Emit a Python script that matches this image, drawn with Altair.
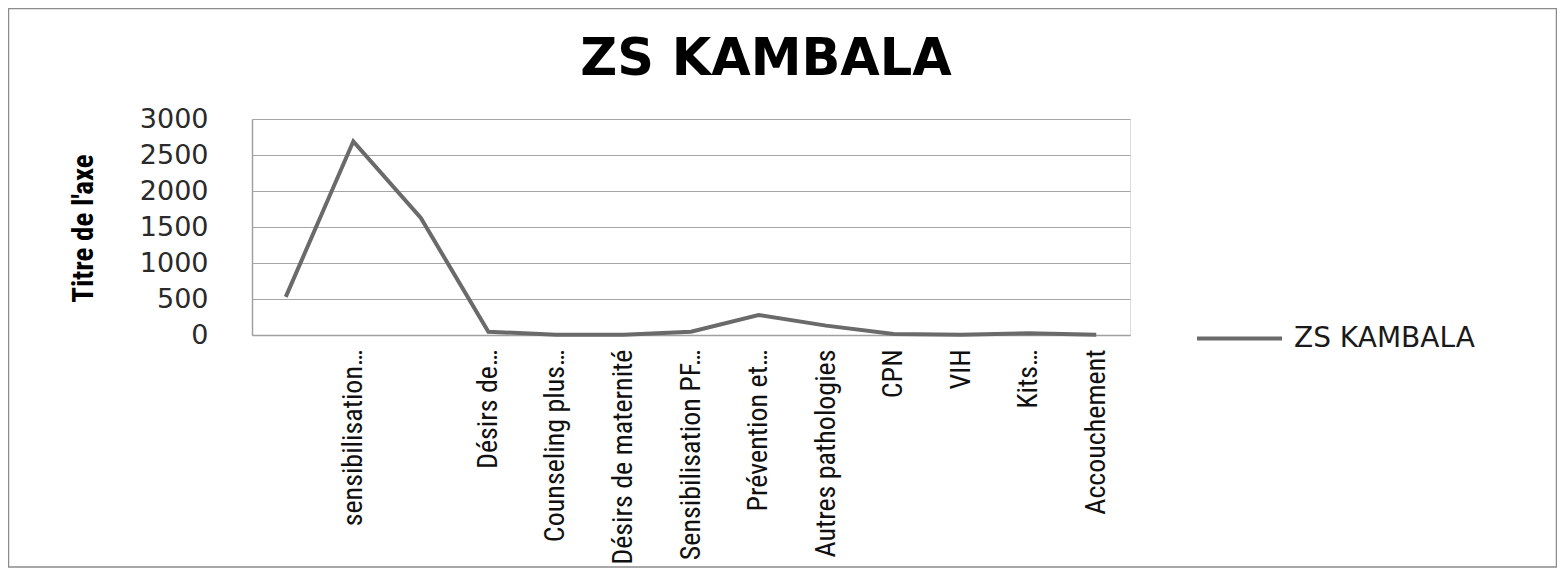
import json
import altair as alt
import pandas as pd

# ---- data ----
labels = ["", "sensibilisation…", "", "Désirs de…", "Counseling plus…",
          "Désirs de maternité", "Sensibilisation PF…", "Prévention et…",
          "Autres pathologies", "CPN", "VIH", "Kits…", "Accouchement"]
values = [530, 2690, 1625, 46, 3, 3, 46, 278, 130, 14, 3, 25, 3]
series_name = "ZS KAMBALA"
chart_title = "ZS KAMBALA"
y_ticks = [0, 500, 1000, 1500, 2000, 2500, 3000]

df = pd.DataFrame({
    "idx": list(range(len(labels))),
    "value": values,
    "series": [series_name] * len(labels),
})

label_expr = json.dumps(labels, ensure_ascii=False) + "[datum.value]"

PAD_L, PAD_T, PAD_R, PAD_B = 244, 111, 427, 233
W, H = 878, 216
NARROW = "Liberation Sans Narrow, Arial Narrow, Roboto Condensed, sans-serif"

line = alt.Chart(df).mark_line(strokeWidth=4).encode(
    x=alt.X("idx:O", scale=alt.Scale(type="point", padding=0.5),
            axis=alt.Axis(labelExpr=label_expr, labelAngle=270, title=None,
                          ticks=False, grid=False, domain=True,
                          domainColor="#a0a0a0", domainWidth=1.5,
                          labelFont=NARROW, labelFontSize=28,
                          labelColor="#111111", labelPadding=14,
                          labelLimit=400, labelOverlap=False)),
    y=alt.Y("value:Q", scale=alt.Scale(domain=[0, 3000], nice=False),
            axis=alt.Axis(values=y_ticks, format="d", grid=True,
                          gridColor="#a5a5a5", gridWidth=1.2, domain=True,
                          domainColor="#a0a0a0", domainWidth=1.5, ticks=False,
                          labelFont="DejaVu Sans", labelFontSize=27,
                          labelColor="#2a2a2a", labelPadding=44,
                          title="Titre de l'axe", titleFont=NARROW,
                          titleFontSize=29, titleFontWeight="bold",
                          titleColor="black", titleAngle=270,
                          titleX=-169, titleY=109, titleAlign="center",
                          titleBaseline="middle")),
    color=alt.Color("series:N", scale=alt.Scale(range=["#6a6a6a"]),
                    legend=alt.Legend(title=None, orient="none",
                                      legendX=943, legendY=175,
                                      symbolType="stroke", symbolSize=7225,
                                      symbolStrokeWidth=4, padding=0,
                                      labelFont="DejaVu Sans",
                                      labelFontSize=28, labelColor="#1a1a1a",
                                      labelOffset=10, labelLimit=400)),
)

border = alt.Chart(pd.DataFrame({"a": [0]})).mark_rect(
    filled=False, stroke="#8c8c8c", strokeWidth=1.5
).encode(
    x=alt.value(0.5 - PAD_L), x2=alt.value(1548.5 - PAD_L),
    y=alt.value(0.5 - PAD_T), y2=alt.value(559 - PAD_T),
)

title = alt.Chart(pd.DataFrame({"t": [chart_title]})).mark_text(
    font="DejaVu Sans", fontSize=51, fontWeight="bold", color="black",
    align="center", baseline="alphabetic"
).encode(
    text="t:N", x=alt.value(766 - 252), y=alt.value(75 - 119),
)

chart = alt.layer(border, title, line).properties(
    width=W, height=H,
    autosize=alt.AutoSizeParams(type="none"),
    padding={"left": PAD_L, "top": PAD_T, "right": PAD_R, "bottom": PAD_B},
).configure_view(stroke=None).configure(background="white")

chart.save("out.html", embed_options={"renderer": "svg", "actions": False})
